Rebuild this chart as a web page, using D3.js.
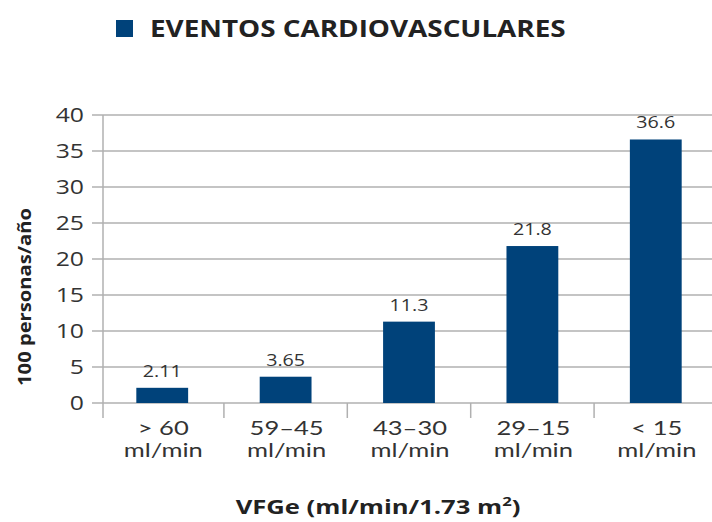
<!DOCTYPE html>
<html><head><meta charset="utf-8">
<script src="https://cdn.jsdelivr.net/npm/d3@7"></script>
<style>body{margin:0;background:#fff;} text{font-family:"Open Sans",sans-serif;}</style>
</head><body>
<svg id="c" width="712" height="522"></svg>
<script>
const categories = ["> 60", "59–45", "43–30", "29–15", "< 15"];
const categoryUnits = ["ml/min", "ml/min", "ml/min", "ml/min", "ml/min"];
const values = [2.11, 3.65, 11.3, 21.8, 36.6];
const valueLabels = ["2.11", "3.65", "11.3", "21.8", "36.6"];
const yTicks = [0, 5, 10, 15, 20, 25, 30, 35, 40];
const seriesName = "EVENTOS CARDIOVASCULARES";
const yTitle = "100 personas/año";

const svg = d3.select("#c");
const barColor = "#00427a";
const gridColor = "#b0b0b0";
const textColor = "#333";
const SX = 1.27; // horizontal stretch of the reference lettering

const x = d3.scaleBand().domain(categories).range([103, 715]).paddingInner(0.58).paddingOuter(0.27);
const y = d3.scaleLinear().domain([0, 40]).range([403, 115]);

// gridlines
svg.append("g").selectAll("line").data(yTicks).join("line")
  .attr("x1", 92).attr("x2", 712)
  .attr("y1", d => y(d)).attr("y2", d => y(d))
  .attr("stroke", gridColor).attr("stroke-width", 1.5);

// y tick labels
svg.append("g").selectAll("text").data(yTicks).join("text")
  .attr("transform", d => `translate(84,${y(d)}) scale(${SX},1)`)
  .attr("dy", "0.36em")
  .attr("text-anchor", "end").attr("font-size", 19.5).attr("fill", textColor)
  .text(d => d);

// y axis line
svg.append("line").attr("x1", 103).attr("x2", 103).attr("y1", 115).attr("y2", 418)
  .attr("stroke", gridColor).attr("stroke-width", 1.5);

// x tick marks at band boundaries (between categories)
const boundary = d => x(d) - (x.step() - x.bandwidth()) / 2;
svg.append("g").selectAll("line").data(categories.slice(1)).join("line")
  .attr("x1", boundary).attr("x2", boundary)
  .attr("y1", 403).attr("y2", 418)
  .attr("stroke", gridColor).attr("stroke-width", 1.5);

// bars
svg.append("g").selectAll("rect").data(values).join("rect")
  .attr("x", (d, i) => x(categories[i]))
  .attr("width", x.bandwidth())
  .attr("y", d => y(d))
  .attr("height", d => y(0) - y(d))
  .attr("fill", barColor);

// value labels
svg.append("g").selectAll("text").data(values).join("text")
  .attr("transform", (d, i) => `translate(${x(categories[i]) + x.bandwidth() / 2},${y(d) - 11}) scale(${SX},1)`)
  .attr("text-anchor", "middle").attr("font-size", 15.5).attr("fill", textColor)
  .text((d, i) => valueLabels[i]);

// x labels (two lines in one text element)
const xl = svg.append("g").selectAll("text").data(categories).join("text")
  .attr("transform", d => `translate(${x(d) + x.bandwidth() / 2 + 1},0) scale(1.38,1)`)
  .attr("text-anchor", "middle").attr("font-size", 18.5).attr("fill", textColor)
  .style("font-family", "Lato, sans-serif");
xl.append("tspan").attr("x", 0).attr("y", 435).text(d => d);
xl.append("tspan").attr("x", 0).attr("y", 457).text((d, i) => categoryUnits[i]);

// x title
const xt = svg.append("text").attr("transform", "translate(378,514) scale(1.28,1)").attr("text-anchor", "middle")
  .attr("font-size", 20).attr("font-weight", "bold").attr("fill", "#222");
xt.append("tspan").text("VFGe (ml/min/1.73 m");
xt.append("tspan").attr("font-size", 13).attr("dy", -8).text("2");
xt.append("tspan").attr("dy", 8).text(")");

// y title
svg.append("text").attr("transform", "translate(31,297) rotate(-90) scale(1.12,1)")
  .attr("text-anchor", "middle").attr("font-size", 18).attr("font-weight", "bold").attr("fill", "#222")
  .text(yTitle);

// legend
svg.append("rect").attr("x", 116).attr("y", 20).attr("width", 17).attr("height", 17).attr("fill", barColor);
svg.append("text").attr("transform", "translate(150,37) scale(1.16,1)").attr("font-size", 24).attr("font-weight", "bold")
  .attr("fill", "#222").text(seriesName);
</script>
</body></html>
